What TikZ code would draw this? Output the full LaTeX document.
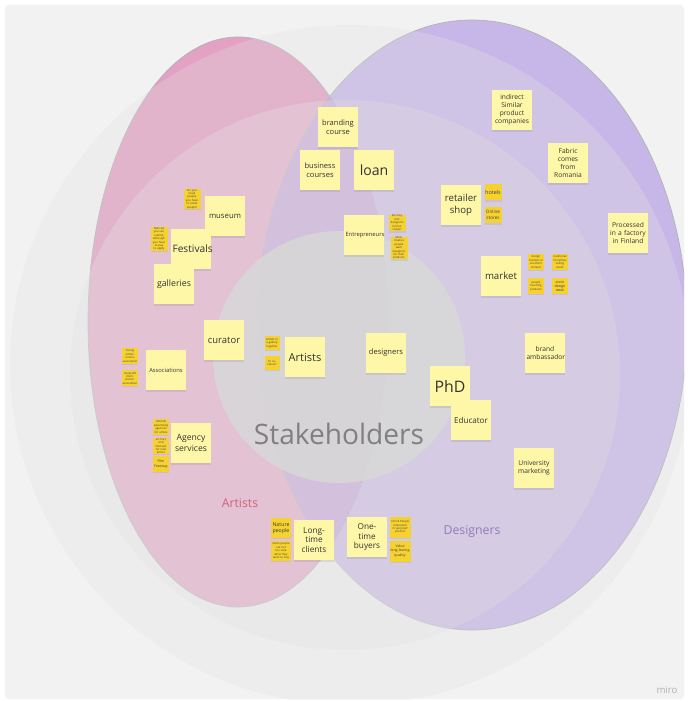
\documentclass[tikz,border=0pt]{standalone}
\usepackage{fontspec}
\setmainfont{Open Sans}
\usetikzlibrary{positioning,shadows}

\definecolor{board}{HTML}{F2F2F2}
\definecolor{ringgray}{HTML}{E2E2E2}
\definecolor{coregray}{HTML}{D8D8D8}
\definecolor{artistpink}{HTML}{E29BBF}
\definecolor{designerpurple}{HTML}{B39CE4}
\definecolor{notefill}{HTML}{FFF7A8}
\definecolor{tagfill}{HTML}{F6D230}

\newcommand{\fs}[1]{\fontsize{#1}{1.2\dimexpr#1pt\relax}\selectfont}

\begin{document}
\begin{tikzpicture}[
    x=0.02cm, y=-0.02cm,
    note/.style={fill=notefill, minimum size=0.8cm, text width=0.74cm, inner sep=0pt, align=center, text=black!80, font=\fs{4.3},
        drop shadow={shadow xshift=0pt, shadow yshift=-1pt, opacity=0.18}},
    tag/.style={fill=tagfill, minimum size=0.34cm, text width=0.3cm, inner sep=0pt, align=center, text=black!75, font=\fs{1.6},
        drop shadow={shadow xshift=0pt, shadow yshift=-0.6pt, opacity=0.15}},
    group/.style={font=\fs{7}}
]
\useasboundingbox (0,0) rectangle (687,702);
\fill[white] (0,0) rectangle (687,702);
\fill[board, rounded corners=2pt] (5,5) rectangle (684,699);

\begin{scope}
  \clip (5,5) rectangle (684,699);
  % the two groups
  \fill[artistpink, fill opacity=0.92, draw=black!30, line width=0.4pt] (238,322) ellipse [x radius=150, y radius=285];
  \fill[designerpurple, fill opacity=0.68, draw=black!30, line width=0.4pt] (472,325) ellipse [x radius=215, y radius=305];
  % rings of closeness
  \fill[ringgray, fill opacity=0.3] (350,365) circle [radius=340];
  \fill[ringgray, fill opacity=0.32] (345,375) circle [radius=275];
  \fill[coregray, fill opacity=0.85] (339,357) circle [radius=126];
\end{scope}

\node[font=\fs{16}, text=black!50] (core) at (339,434) {Stakeholders};
\node[group, text=artistpink!70!red!90!black] (artistlbl) at (240,503) {Artists};
\node[group, text=designerpurple!80!black] (designerlbl) at (472,531) {Designers};
\node[font=\fs{5.5}, text=black!30] (miro) at (667,690) {miro};

% artists side
\node[note, font=\fs{4.4}] (museum) at (225,216) {museum};
\node[note, font=\fs{5.8}] (festivals) at (191,249) {Festivals};
\node[note, font=\fs{5}] (galleries) at (174,284) {galleries};
\node[tag] (museumq) at (192,199) {Do you need people you have to know people?};
\node[tag] (festq) at (159,239) {Noticed you can submit although you have to pay to apply};
\node[note, font=\fs{5.4}] (curator) at (224,340) {curator};
\node[note, font=\fs{3.3}] (assoc) at (166,370) {Associations};
\node[tag, minimum size=0.32cm] (young) at (130,356) {Young artists' unions association};
\node[tag, minimum size=0.32cm] (nonprofit) at (130,378) {nonprofit distribution association};
\node[note, font=\fs{4.9}] (agency) at (191,443) {Agency\\services};
\node[tag, minimum size=0.32cm] (agencya) at (161,427) {Helsinki advertising agencies for artists};
\node[tag, minimum size=0.32cm] (agencyb) at (161,446) {art fairs and festivals for new artists};
\node[tag, minimum size=0.32cm, font=\fs{2}] (filmfw) at (161,464) {Film\\Freeway};

% core
\node[note, font=\fs{6.3}] (artists) at (305,357) {Artists};
\node[tag, minimum size=0.28cm] (artq) at (272,343) {Artists in a gallery together};
\node[tag, minimum size=0.28cm] (curq) at (272,363) {To curators?};
\node[note] (designers) at (386,353) {designers};
\node[note, font=\fs{9}] (phd) at (450,386) {PhD};
\node[note, font=\fs{4.6}] (educator) at (471,420) {Educator};

% shared
\node[note] (branding) at (338,127) {branding\\course};
\node[note] (business) at (320,170) {business\\courses};
\node[note, font=\fs{8}] (loan) at (374,170) {loan};
\node[note, font=\fs{3.3}] (entre) at (364,235) {Entrepreneurs};
\node[tag] (entrea) at (397,223) {Do they rent designers in their shops?};
\node[tag] (entreb) at (399,248) {Most creative people want designers for their products};
\node[note, font=\fs{4.7}] (longtime) at (314,540) {Long-\\time\\clients};
\node[tag, minimum size=0.4cm, text width=0.36cm, font=\fs{3}] (nature) at (281,528) {Nature\\people};
\node[tag, minimum size=0.4cm, text width=0.36cm] (somepeople) at (281,551) {Some people are not too sure what they want to buy};
\node[note, font=\fs{4.7}] (onetime) at (367,537) {One-\\time\\buyers};
\node[tag, minimum size=0.42cm, text width=0.38cm] (upcycled) at (400,527) {I think People interested in 'upcycled' product};
\node[tag, minimum size=0.42cm, text width=0.38cm, font=\fs{2}] (quality) at (400,551) {Value long-lasting quality};

% designers side
\node[note, font=\fs{5.5}] (retailer) at (461,205) {retailer\\shop};
\node[tag, font=\fs{3.1}, text width=0.34cm] (hotels) at (493,192) {hotels};
\node[tag, font=\fs{2.6}, text width=0.34cm] (online) at (493,215) {Online\\stores};
\node[note, font=\fs{5.5}] (market) at (501,276) {market};
\node[tag, minimum size=0.32cm] (designmk) at (536,262) {design markets in southern Finland};
\node[tag, minimum size=0.32cm] (xmas) at (560,262) {traditional Christmas selling event};
\node[tag, minimum size=0.32cm] (touching) at (536,286) {people touching products};
\node[tag, minimum size=0.32cm, font=\fs{2}] (arctic) at (560,286) {arctic design week};
\node[note, font=\fs{3.8}] (indirect) at (512,110) {indirect\\Similar\\product\\companies};
\node[note, font=\fs{3.8}] (fabric) at (568,163) {Fabric\\comes\\from\\Romania};
\node[note, font=\fs{3.8}] (factory) at (628,233) {Processed\\in a factory\\in Finland};
\node[note, font=\fs{3.8}] (ambassador) at (545,353) {brand\\ambassador};
\node[note, font=\fs{3.8}] (university) at (534,468) {University\\marketing};
\end{tikzpicture}
\end{document}
